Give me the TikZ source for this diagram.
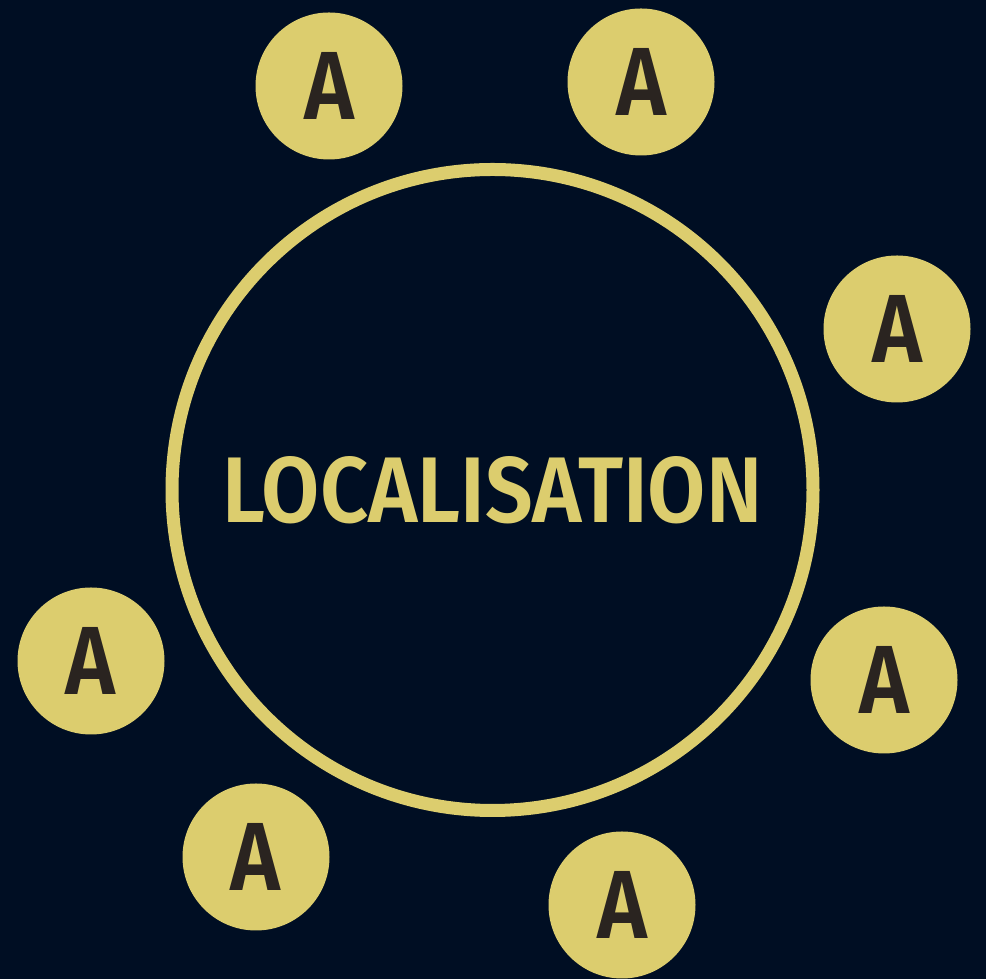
\documentclass[tikz,border=0pt]{standalone}
\usepackage{fontspec}
\usepackage{graphicx}
\setmainfont{Fira Sans}[BoldFont={Fira Sans SemiBold}]
\definecolor{bgnavy}{HTML}{000E23}
\definecolor{gold}{HTML}{DCCD6E}
\definecolor{ink}{HTML}{2A2420}
\tikzset{
  satellite/.style={circle, fill=gold, minimum size=147pt, inner sep=0pt},
}
\newcommand{\letterA}{\textcolor{ink}{\resizebox{50pt}{67pt}{\bfseries A}}}
\begin{document}
\begin{tikzpicture}[x=1pt,y=1pt]
\useasboundingbox (0,0) rectangle (986,979);
\fill[bgnavy] (0,0) rectangle (986,979);
\node[circle, draw=gold, line width=13pt, minimum size=641pt, inner sep=0pt] (hub) at (492.5,489) {};
\node (title) at (492.5,489) {\textcolor{gold}{\resizebox{540pt}{66pt}{\bfseries LOCALISATION}}};
\node[satellite] (s1) at (329,893) {\letterA};
\node[satellite] (s2) at (641,897) {\letterA};
\node[satellite] (s3) at (897,650) {\letterA};
\node[satellite] (s4) at (91,318) {\letterA};
\node[satellite] (s5) at (884,299) {\letterA};
\node[satellite] (s6) at (256,122) {\letterA};
\node[satellite] (s7) at (622,74) {\letterA};
\end{tikzpicture}
\end{document}
